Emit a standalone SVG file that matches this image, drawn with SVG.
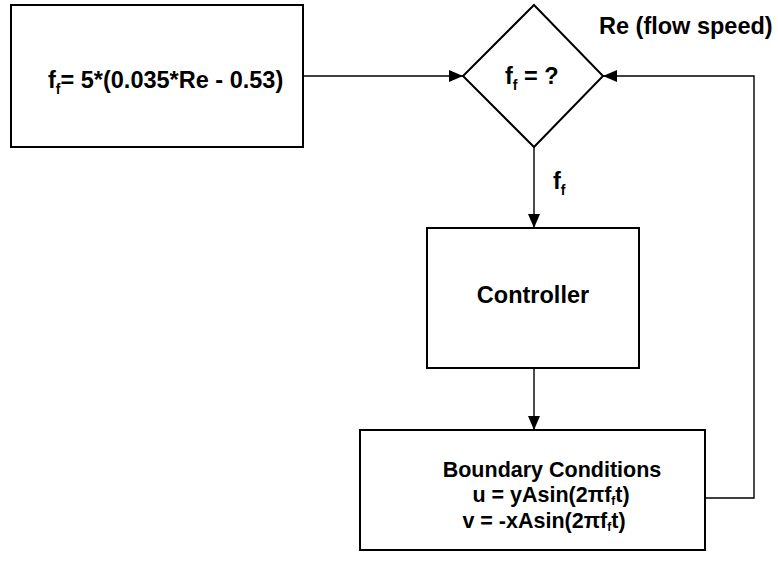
<svg xmlns="http://www.w3.org/2000/svg" width="778" height="573" viewBox="0 0 778 573">
<style>
.box{fill:#fff;stroke:#000;stroke-width:2}
.ln{fill:none;stroke:#000;stroke-width:1.4}
text{font-family:"Liberation Sans",Arial,sans-serif;font-weight:bold;fill:#000}
.t{font-size:23.5px}
.b{font-size:21.5px}
.s{font-size:14px}
.s2{font-size:12px}
</style>
<defs>
<marker id="ah" viewBox="0 0 14 12" refX="14" refY="6" markerWidth="14" markerHeight="12" markerUnits="userSpaceOnUse" orient="auto">
<path d="M0,0 L14,6 L0,12 Z" fill="#000"/>
</marker>
</defs>
<rect width="778" height="573" fill="#fff"/>
<g id="connectors">
<line class="ln" x1="303" y1="76" x2="463" y2="76" marker-end="url(#ah)"/>
<polyline class="ln" points="705,498 754,498 754,76 603,76" marker-end="url(#ah)"/>
<line class="ln" x1="534" y1="147" x2="534" y2="228" marker-end="url(#ah)"/>
<line class="ln" x1="534" y1="368" x2="534" y2="430" marker-end="url(#ah)"/>
</g>
<g id="formula">
<rect class="box" x="11" y="5" width="292" height="142"/>
<text class="t" x="48" y="88">f<tspan class="s" dy="6">f</tspan><tspan dy="-6">= 5*(0.035*Re - 0.53)</tspan></text>
</g>
<g id="decision">
<path class="box" d="M534,5 L603,76 L534,147 L463,76 Z" stroke-width="1.6"/>
<text class="t" x="505" y="84">f<tspan class="s" dy="6">f</tspan><tspan dy="-6"> = ?</tspan></text>
</g>
<g id="re-label">
<text class="t" x="599" y="34">Re (flow speed)</text>
</g>
<g id="ff-label">
<text class="t" x="553" y="189">f<tspan class="s" dy="6">f</tspan></text>
</g>
<g id="controller">
<rect class="box" x="427" y="228" width="212" height="140"/>
<text class="t" x="533" y="303" text-anchor="middle">Controller</text>
</g>
<g id="boundary">
<rect class="box" x="360" y="430" width="345" height="120"/>
<text class="b" x="552" y="477" text-anchor="middle">Boundary Conditions</text>
<text class="b" x="551" y="502" text-anchor="middle">u = yAsin(2πf<tspan class="s2" dy="3">f</tspan><tspan dy="-3">t)</tspan></text>
<text class="b" x="544" y="528" text-anchor="middle">v = -xAsin(2πf<tspan class="s2" dy="3">f</tspan><tspan dy="-3">t)</tspan></text>
</g>
</svg>
